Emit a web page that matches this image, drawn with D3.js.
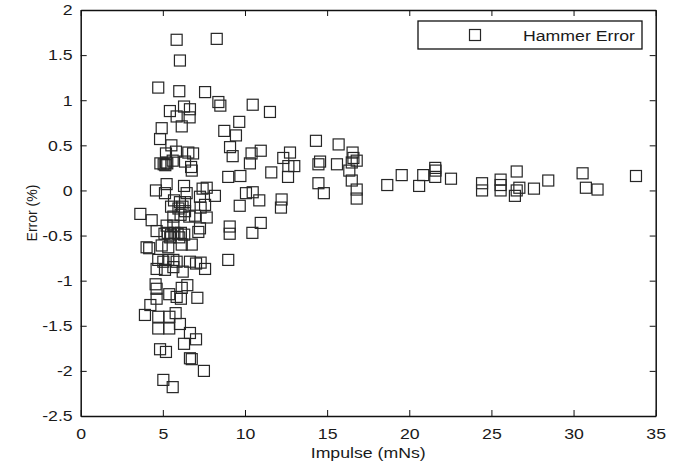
<!DOCTYPE html>
<html lang="en">
	<head>
		<meta charset="utf-8">
		<title>Hammer Error vs Impulse</title>
		<script type="text/javascript" src="https://d3js.org/d3.v7.min.js"></script>
		<style type="text/css">
			body {
				margin: 0;
				background: #fff;
			}
			text {
				font-family: "Liberation Sans", Arial, sans-serif;
				fill: #1a1a1a;
			}
			.marker {
				fill: none;
				stroke: #262626;
				stroke-width: 1.2;
			}
		</style>
	</head>

<body>

<script type="text/javascript">

// impulse (mNs) and error (%)
const impulse = [
    5.84, 8.28, 6.04, 4.72, 6.00, 7.57, 8.38, 8.50, 10.47, 11.52,
    5.43, 6.29, 6.65, 5.84, 6.63, 6.15, 4.93, 9.65, 8.74, 9.45,
    4.83, 5.52, 9.09, 10.96, 10.40, 5.19, 5.80, 6.55, 6.84, 9.25,
    12.74, 12.33, 4.85, 5.05, 5.15, 5.27, 5.20, 5.60, 6.35, 6.72,
    6.76, 10.30, 12.64, 13.00, 12.62, 11.60, 8.98, 9.72, 14.32, 15.70,
    16.55, 16.60, 16.80, 16.50, 14.57, 14.47, 15.60, 16.35, 16.50, 16.80,
    16.80, 14.47, 14.80, 18.66, 19.54, 20.60, 20.85, 21.58, 21.60, 21.58,
    22.54, 24.43, 24.43, 25.56, 25.56, 25.56, 26.54, 26.70, 26.54, 26.43,
    27.59, 28.46, 30.55, 30.75, 31.46, 33.80,
    10.06, 10.47, 10.87, 9.68, 12.23, 12.19, 10.96, 10.45, 9.07, 9.07,
    8.98, 7.67, 8.17, 7.42, 7.26, 7.57, 7.30, 7.67, 7.26, 7.16,
    7.57, 7.30, 7.10,
    4.58, 5.23, 5.13, 6.29, 6.45, 5.68, 6.04, 6.35, 3.63, 4.32,
    5.64, 6.08, 6.35, 6.61, 6.96, 5.23, 5.64, 4.62, 5.10, 5.30,
    5.50, 5.70, 5.90, 6.10, 6.30, 5.45, 6.00, 4.01, 4.17, 4.93,
    5.33, 6.15, 6.76, 4.72, 5.03, 5.33, 5.64, 5.84, 4.62, 5.13,
    5.64, 6.21, 6.65, 7.02, 4.56, 4.62, 5.39, 5.84, 6.15, 6.49,
    6.10, 4.62, 4.24, 3.91, 4.72, 5.40, 5.78, 6.04, 4.72, 5.39,
    6.65, 7.02, 6.29, 4.83, 5.19, 6.65, 6.76, 7.50, 5.03, 5.60,
    5.95, 6.20, 5.50
];

const error = [
    1.67, 1.68, 1.44, 1.14, 1.10, 1.09, 0.98, 0.94, 0.95, 0.87,
    0.88, 0.93, 0.90, 0.82, 0.81, 0.71, 0.69, 0.76, 0.66, 0.61,
    0.57, 0.50, 0.48, 0.44, 0.41, 0.41, 0.43, 0.42, 0.41, 0.38,
    0.42, 0.36, 0.30, 0.29, 0.28, 0.30, 0.31, 0.33, 0.32, 0.26,
    0.22, 0.30, 0.27, 0.27, 0.15, 0.20, 0.15, 0.16, 0.55, 0.51,
    0.42, 0.36, 0.33, 0.31, 0.32, 0.29, 0.29, 0.22, 0.11, 0.01,
    -0.09, 0.08, -0.03, 0.06, 0.17, 0.05, 0.17, 0.25, 0.22, 0.15,
    0.13, 0.08, 0.00, 0.12, 0.06, 0.00, 0.21, 0.03, 0.00, -0.06,
    0.02, 0.11, 0.19, 0.03, 0.01, 0.16,
    -0.03, -0.02, -0.11, -0.17, -0.10, -0.19, -0.36, -0.47, -0.40, -0.48,
    -0.77, 0.03, -0.06, 0.02, -0.07, -0.16, -0.19, -0.30, -0.42, -0.46,
    -0.87, -0.80, -1.19,
    0.00, 0.07, -0.03, 0.05, -0.03, -0.11, -0.13, -0.13, -0.26, -0.33,
    -0.29, -0.27, -0.23, -0.29, -0.28, -0.39, -0.39, -0.45, -0.48, -0.47,
    -0.49, -0.47, -0.48, -0.47, -0.49, -0.52, -0.52, -0.63, -0.64, -0.61,
    -0.63, -0.60, -0.60, -0.77, -0.79, -0.77, -0.77, -0.79, -0.87, -0.88,
    -0.85, -0.90, -0.79, -0.81, -1.04, -1.09, -1.15, -1.18, -1.08, -1.05,
    -1.20, -1.20, -1.27, -1.38, -1.40, -1.40, -1.36, -1.48, -1.53, -1.53,
    -1.58, -1.65, -1.70, -1.76, -1.79, -1.86, -1.87, -2.00, -2.10, -2.18,
    -0.20, -0.18, -0.18
];

const xTicks = [0, 5, 10, 15, 20, 25, 30, 35];
const yTicks = [-2.5, -2, -1.5, -1, -0.5, 0, 0.5, 1, 1.5, 2];
const yTickLabels = ["-2.5", "-2", "-1.5", "-1", "-0.5", "0", "0.5", "1", "1.5", "2"];

const xLabel = "Impulse (mNs)";
const yLabel = "Error (%)";
const seriesName = "Hammer Error";

const w = 685;
const h = 468;

const plotLeft = 80.7, plotRight = 655.7, plotTop = 10, plotBottom = 416;
const stretch = 1.18;   // glyphs in the picture are a little wide
const ms = 11;          // marker size

const svg = d3.select("body")
              .append("svg")
              .attr("width", w)
              .attr("height", h);

const xScale = d3.scaleLinear()
                 .domain([0, 35])
                 .range([plotLeft, plotRight]);

const yScale = d3.scaleLinear()
                 .domain([-2.5, 2])
                 .range([plotBottom, plotTop]);

// points
const data = impulse.map((d, i) => ({x: d, y: error[i]}));

svg.selectAll("rect.marker")
   .data(data)
   .enter()
   .append("rect")
   .attr("class", "marker")
   .attr("x", (d) => xScale(d.x) - ms / 2)
   .attr("y", (d) => yScale(d.y) - ms / 2)
   .attr("width", ms)
   .attr("height", ms);

// axes, ticks pointing inwards on all four sides
const xAxis = d3.axisBottom(xScale)
                .tickValues(xTicks)
                .tickFormat(d3.format("d"))
                .tickSizeInner(-6)
                .tickSizeOuter(0)
                .tickPadding(12);

const yAxis = d3.axisLeft(yScale)
                .tickValues(yTicks)
                .tickFormat((d, i) => yTickLabels[i])
                .tickSizeInner(-6)
                .tickSizeOuter(0)
                .tickPadding(8);

const xTop = d3.axisTop(xScale).tickValues(xTicks).tickFormat("").tickSizeInner(-6).tickSizeOuter(0);
const yRight = d3.axisRight(yScale).tickValues(yTicks).tickFormat("").tickSizeInner(-6).tickSizeOuter(0);

const gx = svg.append("g")
   .attr("transform", "translate(0," + plotBottom + ")")
   .call(xAxis);

const gy = svg.append("g")
   .attr("transform", "translate(" + plotLeft + ",0)")
   .call(yAxis);

svg.append("g").attr("transform", "translate(0," + plotTop + ")").call(xTop);
svg.append("g").attr("transform", "translate(" + plotRight + ",0)").call(yRight);

svg.selectAll(".domain").attr("stroke", "#111").attr("stroke-width", 1.5);
svg.selectAll(".tick line").attr("stroke", "#111").attr("stroke-width", 1);

gx.selectAll("text")
  .style("font-size", "15px")
  .style("font-family", "'Liberation Sans', Arial, sans-serif")
  .attr("fill", "#1a1a1a")
  .attr("transform", "scale(" + stretch + ",1)");

gy.selectAll("text")
  .style("font-size", "15px")
  .style("font-family", "'Liberation Sans', Arial, sans-serif")
  .attr("fill", "#1a1a1a")
  .attr("x", -8 / stretch)
  .attr("transform", "scale(" + stretch + ",1)");

// axis labels
svg.append("text")
   .attr("transform", "translate(" + ((plotLeft + plotRight) / 2) + ",458) scale(" + stretch + ",1)")
   .style("text-anchor", "middle")
   .style("font-size", "15px")
   .text(xLabel);

svg.append("text")
   .attr("transform", "translate(37," + ((plotTop + plotBottom) / 2) + ") rotate(-90)")
   .style("text-anchor", "middle")
   .style("font-size", "14px")
   .text(yLabel);

// legend
const legend = svg.append("g");

legend.append("rect")
      .attr("x", 418)
      .attr("y", 21)
      .attr("width", 224)
      .attr("height", 28)
      .attr("fill", "#fff")
      .attr("stroke", "#111")
      .attr("stroke-width", 1.3);

legend.append("rect")
      .attr("class", "marker")
      .attr("x", 475 - ms / 2)
      .attr("y", 35 - ms / 2)
      .attr("width", ms)
      .attr("height", ms);

legend.append("text")
      .attr("transform", "translate(523,40.5) scale(" + stretch + ",1)")
      .style("font-size", "15px")
      .text(seriesName);

</script>
</body>
</html>
